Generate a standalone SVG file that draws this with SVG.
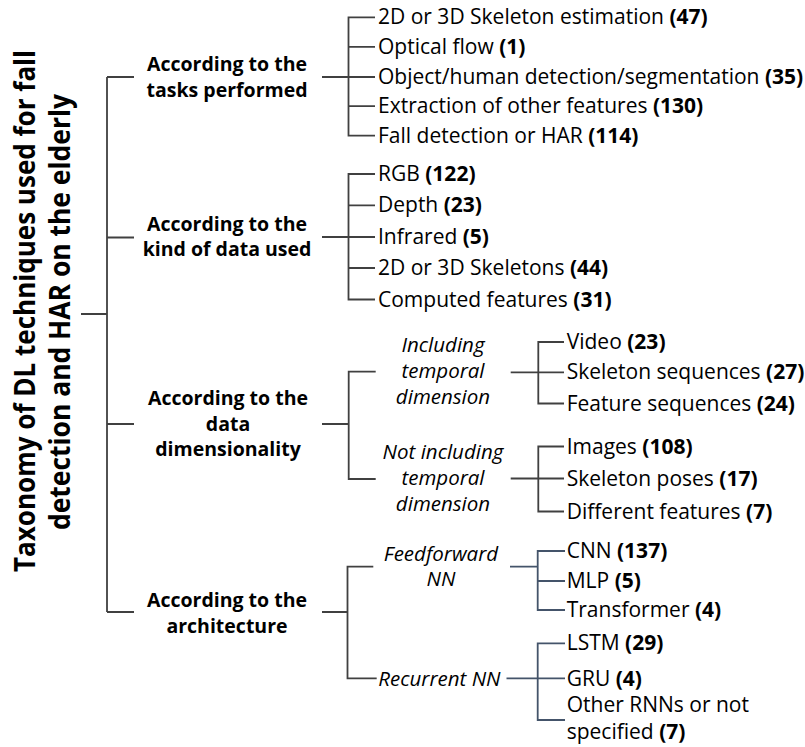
<svg xmlns="http://www.w3.org/2000/svg" width="805" height="747" viewBox="0 0 805 747">
<style>
text{font-family:"Open Sans","Liberation Sans",sans-serif;fill:#000}
.title{font-size:28px;font-weight:bold;text-anchor:middle}
.cat{font-size:19.5px;font-weight:bold;text-anchor:middle}
.sub{font-size:20.5px;font-style:italic;text-anchor:middle}
.subl{font-size:20.5px;font-style:italic}
.it{font-size:21px}
.b{font-weight:bold}
.ln{stroke:#404040;stroke-width:1.8;fill:none}
.lb{stroke:#44546a;stroke-width:1.8;fill:none}
</style>
<rect width="805" height="747" fill="#fff"/>
<g id="connectors">
<path class="ln" d="M81,314H107M107,77V612M107,77H134M107,237.5H134M107,424H134M107,612H134"/>
<path class="ln" d="M322,77H375M375,17.3H348.5V135.7H375M348.5,46.9H375M348.5,106.1H375"/>
<path class="ln" d="M322,237H375M375,174H348.5V299.5H375M348.5,205.3H375M348.5,268H375"/>
<path class="ln" d="M322,424H348.7M375.7,371.7H348.7V479H375.7"/>
<path class="ln" d="M510.7,372.3H564M564,342H538.3V403.5H564"/>
<path class="ln" d="M510.7,478.5H564M564,446.5H538.3V511.5H564"/>
<path class="ln" d="M322,612H347.5M373.3,566.7H347.5V678.3H376.7"/>
<path class="lb" d="M510,566.7H537.7M565,551H537.7V610H565M537.7,581H565"/>
<path class="lb" d="M506.5,678.3H565M565,643.3H537.7V720H565"/>
</g>
<g id="title">
<text class="title" transform="translate(35,311) rotate(-90)" textLength="522" lengthAdjust="spacingAndGlyphs">Taxonomy of DL techniques used for fall</text>
<text class="title" transform="translate(70,312) rotate(-90)" textLength="436" lengthAdjust="spacingAndGlyphs">detection and HAR on the elderly</text>
</g>
<g id="cat-tasks"><text class="cat" x="227" y="71">According to the<tspan x="227" dy="26">tasks performed</tspan></text></g>
<g id="cat-data"><text class="cat" x="227" y="231">According to the<tspan x="227" dy="25">kind of data used</tspan></text></g>
<g id="cat-dim"><text class="cat" x="228" y="405">According to the<tspan x="228" dy="25.5">data</tspan><tspan x="228" dy="25.5">dimensionality</tspan></text></g>
<g id="cat-arch"><text class="cat" x="227" y="607">According to the<tspan x="227" dy="26">architecture</tspan></text></g>
<g id="tasks-items">
<text class="it" x="378" y="24.3">2D or 3D Skeleton estimation <tspan class="b">(47)</tspan></text>
<text class="it" x="378" y="53.9">Optical flow <tspan class="b">(1)</tspan></text>
<text class="it" x="378" y="83.5">Object/human detection/segmentation <tspan class="b">(35)</tspan></text>
<text class="it" x="378" y="113.1">Extraction of other features <tspan class="b">(130)</tspan></text>
<text class="it" x="378" y="142.7">Fall detection or HAR <tspan class="b">(114)</tspan></text>
</g>
<g id="data-items">
<text class="it" x="378" y="181">RGB <tspan class="b">(122)</tspan></text>
<text class="it" x="378" y="212.3">Depth <tspan class="b">(23)</tspan></text>
<text class="it" x="378" y="243.7">Infrared <tspan class="b">(5)</tspan></text>
<text class="it" x="378" y="275">2D or 3D Skeletons <tspan class="b">(44)</tspan></text>
<text class="it" x="378" y="306.5">Computed features <tspan class="b">(31)</tspan></text>
</g>
<g id="sub-temporal"><text class="sub" x="443" y="352">Including<tspan x="443" dy="26">temporal</tspan><tspan x="443" dy="26">dimension</tspan></text></g>
<g id="sub-nontemporal"><text class="sub" x="443" y="459">Not including<tspan x="443" dy="26">temporal</tspan><tspan x="443" dy="26">dimension</tspan></text></g>
<g id="temporal-items">
<text class="it" x="566.7" y="349">Video <tspan class="b">(23)</tspan></text>
<text class="it" x="566.7" y="379.3">Skeleton sequences <tspan class="b">(27)</tspan></text>
<text class="it" x="566.7" y="410.5">Feature sequences <tspan class="b">(24)</tspan></text>
</g>
<g id="nontemporal-items">
<text class="it" x="566.7" y="453.5">Images <tspan class="b">(108)</tspan></text>
<text class="it" x="566.7" y="485.5">Skeleton poses <tspan class="b">(17)</tspan></text>
<text class="it" x="566.7" y="518.5">Different features <tspan class="b">(7)</tspan></text>
</g>
<g id="sub-feedforward"><text class="sub" x="441" y="560.5">Feedforward<tspan x="441" dy="25.5">NN</tspan></text></g>
<g id="sub-recurrent"><text class="subl" x="378.3" y="685.5">Recurrent NN</text></g>
<g id="ff-items">
<text class="it" x="566.7" y="558">CNN <tspan class="b">(137)</tspan></text>
<text class="it" x="566.7" y="588">MLP <tspan class="b">(5)</tspan></text>
<text class="it" x="566.7" y="617">Transformer <tspan class="b">(4)</tspan></text>
</g>
<g id="rnn-items">
<text class="it" x="566.7" y="650">LSTM <tspan class="b">(29)</tspan></text>
<text class="it" x="566.7" y="685.5">GRU <tspan class="b">(4)</tspan></text>
<text class="it" x="566.7" y="712">Other RNNs or not<tspan x="566.7" dy="26.5">specified <tspan class="b">(7)</tspan></tspan></text>
</g>
</svg>
